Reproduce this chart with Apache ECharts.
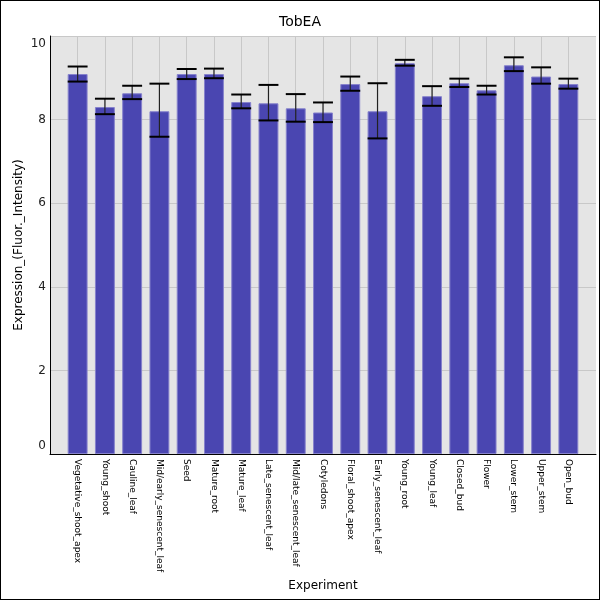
<!DOCTYPE html>
<html>
<head>
<meta charset="utf-8">
<script src="https://cdn.jsdelivr.net/npm/echarts@6/dist/echarts.min.js"></script>
<style>
  html, body { margin: 0; padding: 0; background: #fff; }
  #chart { width: 600px; height: 600px; box-sizing: border-box; border: 1px solid #000; }
</style>
</head>
<body>
<div id="chart"></div>
<script>
const categories = ['Vegetative_shoot_apex', 'Young_shoot', 'Cauline_leaf', 'Mid/early_senescent_leaf', 'Seed',
  'Mature_root', 'Mature_leaf', 'Late_senescent_leaf', 'Mid/late_senescent_leaf', 'Cotyledons',
  'Floral_shoot_apex', 'Early_senescent_leaf', 'Young_root', 'Young_leaf', 'Closed_bud',
  'Flower', 'Lower_stem', 'Upper_stem', 'Open_bud'];
const means = [9.09, 8.30, 8.63, 8.20, 9.09, 9.09, 8.42, 8.39, 8.27, 8.17,
  8.85, 8.20, 9.35, 8.56, 8.87, 8.70, 9.30, 9.03, 8.85];
const errLow = [8.91, 8.13, 8.49, 7.59, 8.97, 8.99, 8.27, 7.98, 7.95, 7.94,
  8.69, 7.55, 9.29, 8.33, 8.78, 8.60, 9.16, 8.86, 8.74];
const errHigh = [9.27, 8.50, 8.81, 8.86, 9.21, 9.22, 8.60, 8.83, 8.61, 8.41,
  9.03, 8.87, 9.43, 8.80, 8.98, 8.81, 9.49, 9.25, 8.98];
const yTicks = [0, 2, 4, 6, 8, 10];

const font = 'DejaVu Sans';
let chart = echarts.init(document.getElementById('chart'));

let errData = [];
for (let i = 0; i < categories.length; i++) {
  errData.push([i, errLow[i], errHigh[i]]);
}

const chartOptions = {
  animation: false,
  title: {
    text: 'TobEA',
    left: 'center',
    top: 9,
    textStyle: { fontFamily: font, fontSize: 14, fontWeight: 'normal', color: '#000' }
  },
  grid: [
    // frame with background and y axis
    { left: 49, right: 3, top: 35, bottom: 145, show: true, backgroundColor: '#e5e5e5', borderWidth: 0 },
    // inner grid for the bars (category margins)
    { left: 63, right: 17, top: 35, bottom: 145 }
  ],
  xAxis: [
    {
      gridIndex: 0, type: 'value', min: 0, max: 1,
      axisLine: { show: true, onZero: false, lineStyle: { color: '#000', width: 1 } },
      axisTick: { show: false }, axisLabel: { show: false }, splitLine: { show: false }
    },
    {
      gridIndex: 1, type: 'category', data: categories,
      name: 'Experiment', nameLocation: 'middle', nameGap: 126, nameMoveOverlap: false,
      nameTextStyle: { fontFamily: font, fontSize: 12, color: '#000' },
      axisLine: { show: false }, axisTick: { show: false },
      axisLabel: { rotate: -90, interval: 0, margin: 5, fontFamily: font, fontSize: 9, color: '#000' },
      splitLine: { show: true, alignWithLabel: true, lineStyle: { color: '#c8c8c8', width: 1 } }
    }
  ],
  yAxis: [
    {
      gridIndex: 0, type: 'value', min: yTicks[0], max: yTicks[yTicks.length - 1], interval: 2,
      name: 'Expression_(Fluor._Intensity)', nameLocation: 'middle', nameGap: 25, nameMoveOverlap: false,
      nameTextStyle: { fontFamily: font, fontSize: 12, color: '#000' },
      axisLine: { show: true, lineStyle: { color: '#000', width: 1 } },
      axisTick: { show: false },
      axisLabel: { margin: 4, fontFamily: font, fontSize: 12, color: '#222', lineHeight: 16,
        verticalAlignMinLabel: 'bottom', verticalAlignMaxLabel: 'top' },
      splitLine: { show: true, lineStyle: { color: '#c8c8c8', width: 1 } }
    },
    {
      gridIndex: 1, type: 'value', min: yTicks[0], max: yTicks[yTicks.length - 1],
      show: false, splitLine: { show: false }
    }
  ],
  series: [
    {
      type: 'bar', xAxisIndex: 1, yAxisIndex: 1,
      data: means, barWidth: '73%',
      itemStyle: { color: '#4a46b1', borderColor: '#8682cc', borderWidth: 1 }
    },
    {
      type: 'custom', xAxisIndex: 1, yAxisIndex: 1, z: 5,
      data: errData,
      renderItem: function (params, api) {
        const x = api.value(0);
        const lo = api.coord([x, api.value(1)]);
        const hi = api.coord([x, api.value(2)]);
        const w = api.size([1, 0])[0] * 0.73 / 2;
        return {
          type: 'group',
          children: [
            { type: 'line', shape: { x1: lo[0], y1: lo[1], x2: hi[0], y2: hi[1] },
              style: { stroke: '#222', lineWidth: 1.2 } },
            { type: 'line', shape: { x1: hi[0] - w, y1: hi[1], x2: hi[0] + w, y2: hi[1] },
              style: { stroke: '#000', lineWidth: 2 } },
            { type: 'line', shape: { x1: lo[0] - w, y1: lo[1], x2: lo[0] + w, y2: lo[1] },
              style: { stroke: '#000', lineWidth: 2 } }
          ]
        };
      }
    }
  ]
};
chart.setOption(chartOptions);
</script>
</body>
</html>
